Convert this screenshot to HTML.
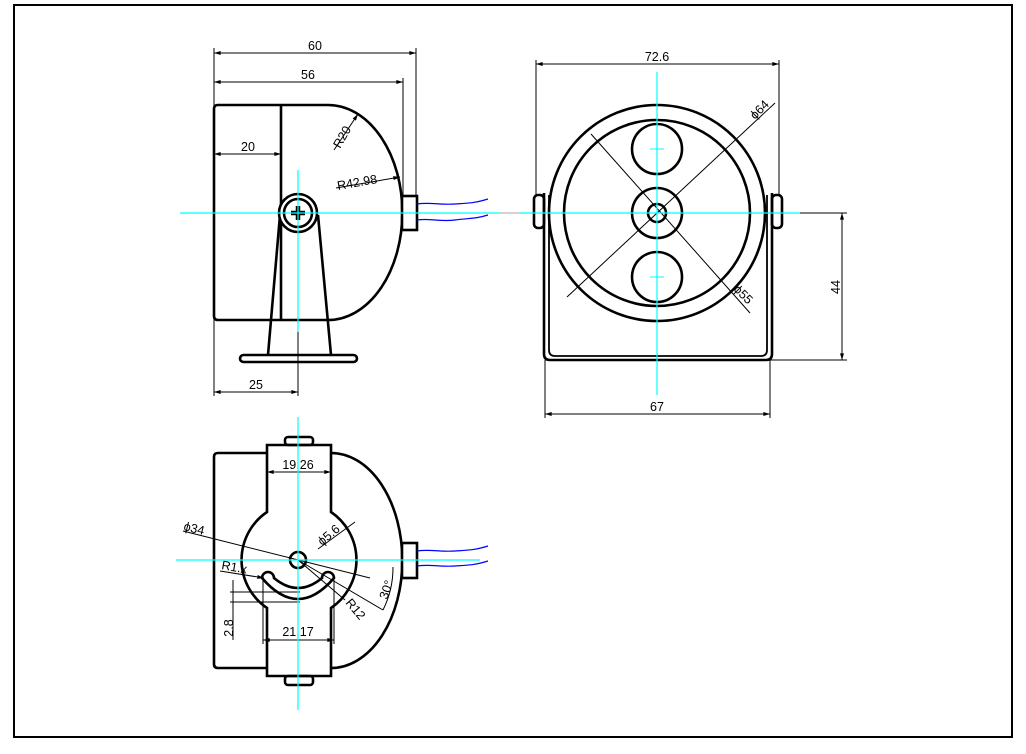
<!DOCTYPE html>
<html><head><meta charset="utf-8"><style>
html,body{margin:0;padding:0;background:#fff;}
svg{display:block;}
text{font-family:"Liberation Sans",sans-serif;font-size:12.5px;fill:#000;}
</style></head><body>
<svg width="1026" height="754" viewBox="0 0 1026 754" xmlns="http://www.w3.org/2000/svg">
<defs>
<marker id="a" viewBox="0 0 10 6" refX="10" refY="3" markerWidth="8" markerHeight="4" orient="auto-start-reverse" markerUnits="userSpaceOnUse"><path d="M0,0 L10,3 L0,6 Z" fill="#000"/></marker>
</defs>
<rect x="0" y="0" width="1026" height="754" fill="#fff"/>
<rect x="14" y="5" width="998" height="732" fill="none" stroke="#000" stroke-width="2"/>

<!-- ===== SIDE VIEW ===== -->
<g fill="none" stroke="#000" stroke-width="2.6">
  <path d="M218,105 L328,105 A74,107 0 0 1 328,320 L218,320 Q214,320 214,316 L214,109 Q214,105 218,105 Z"/>
  <line x1="281" y1="105" x2="281" y2="320"/>
  <path d="M280,215 L268,355 M318,215 L331,355"/>
  <rect x="240" y="355" width="117" height="7" rx="3.5"/>
  <circle cx="298" cy="213" r="19" fill="#fff"/>
  <circle cx="298" cy="213" r="14"/>
  <rect x="402" y="196" width="15" height="34" fill="#fff"/>
</g>
<path d="M291,213 h14 M298,206 v14" stroke="#000" stroke-width="4.5"/>
<path d="M417,204 C430,202 440,205 455,204 S475,203 488,199 M417,220 C430,218 440,222 455,220 S475,219 488,215" fill="none" stroke="#00f" stroke-width="1.2"/>
<g stroke="#000" stroke-width="1" fill="none">
  <line x1="214" y1="48" x2="214" y2="396"/>
  <line x1="416" y1="48" x2="416" y2="196"/>
  <line x1="403" y1="78" x2="403" y2="196"/>
  <line x1="298" y1="330" x2="298" y2="396"/>
  <line x1="214" y1="53" x2="416" y2="53" marker-start="url(#a)" marker-end="url(#a)"/>
  <line x1="214" y1="82" x2="403" y2="82" marker-start="url(#a)" marker-end="url(#a)"/>
  <line x1="214" y1="154" x2="281" y2="154" marker-start="url(#a)" marker-end="url(#a)"/>
  <line x1="214" y1="392" x2="298" y2="392" marker-start="url(#a)" marker-end="url(#a)"/>
  <line x1="334" y1="150" x2="358" y2="114" marker-end="url(#a)"/>
  <line x1="336" y1="188" x2="400" y2="177" marker-end="url(#a)"/>
</g>
<text x="315" y="50" text-anchor="middle">60</text>
<text x="308" y="79" text-anchor="middle">56</text>
<text x="248" y="151" text-anchor="middle">20</text>
<text x="256" y="389" text-anchor="middle">25</text>
<text x="0" y="0" transform="translate(340,149) rotate(-60)">R20</text>
<text x="0" y="0" transform="translate(338,190) rotate(-10)">R42.98</text>
<line x1="180" y1="213" x2="540" y2="213" stroke="#888" stroke-width="0.8"/>
<line x1="180" y1="213" x2="500" y2="213" stroke="#0ff" stroke-width="1.2"/>
<line x1="298" y1="170" x2="298" y2="332" stroke="#0ff" stroke-width="1.2"/>

<!-- ===== FRONT VIEW ===== -->
<g fill="none" stroke="#000" stroke-width="2.6">
  <path d="M544,193 L544,354 Q544,360 550,360 L766,360 Q772,360 772,354 L772,193"/>
  <path d="M549,195 L549,350 Q549,356 555,356 L761,356 Q767,356 767,350 L767,195" stroke-width="1.8"/>
  <rect x="534" y="195" width="10" height="33" rx="4"/>
  <rect x="772" y="195" width="10" height="33" rx="4"/>
  <circle cx="657" cy="213" r="108" fill="#fff"/>
  <circle cx="657" cy="213" r="93"/>
  <circle cx="657" cy="149" r="25"/>
  <circle cx="657" cy="277" r="25"/>
  <circle cx="657" cy="213" r="25"/>
  <circle cx="657" cy="213" r="9"/>
</g>
<g stroke="#000" stroke-width="1" fill="none">
  <line x1="567" y1="297" x2="775" y2="103"/>
  <line x1="591" y1="134" x2="750" y2="313"/>
  <line x1="536" y1="60" x2="536" y2="195"/>
  <line x1="779" y1="60" x2="779" y2="195"/>
  <line x1="536" y1="64" x2="779" y2="64" marker-start="url(#a)" marker-end="url(#a)"/>
  <line x1="545" y1="360" x2="545" y2="418"/>
  <line x1="770" y1="360" x2="770" y2="418"/>
  <line x1="545" y1="414" x2="770" y2="414" marker-start="url(#a)" marker-end="url(#a)"/>
  <line x1="785" y1="213" x2="847" y2="213"/>
  <line x1="770" y1="360" x2="847" y2="360"/>
  <line x1="842" y1="213" x2="842" y2="360" marker-start="url(#a)" marker-end="url(#a)"/>
</g>
<text x="657" y="61" text-anchor="middle">72.6</text>
<text x="657" y="411" text-anchor="middle">67</text>
<text x="0" y="0" transform="translate(840,287) rotate(-90)" text-anchor="middle">44</text>
<text x="0" y="0" transform="translate(755,120) rotate(-45)">ϕ64</text>
<text x="0" y="0" transform="translate(733,290) rotate(45)">ϕ55</text>
<line x1="520" y1="213" x2="800" y2="213" stroke="#0ff" stroke-width="1.2"/>
<line x1="657" y1="72" x2="657" y2="395" stroke="#0ff" stroke-width="1.2"/>
<path d="M650,149 h14 M650,277 h14" stroke="#0ff" stroke-width="1"/>

<!-- ===== BOTTOM VIEW ===== -->
<g fill="none" stroke="#000" stroke-width="2.6">
  <path d="M331,453 A71,107 0 0 1 331,668"/>
  <path d="M267,453 L218,453 Q214,453 214,457 L214,664 Q214,668 218,668 L267,668"/>
  <path d="M267,445 L331,445 L331,512 A58,58 0 0 1 331,608 L331,676 L267,676 L267,608 A58,58 0 0 1 267,512 Z" fill="#fff"/>
  <rect x="285" y="437" width="28" height="8" rx="3"/>
  <rect x="285" y="676" width="28" height="9" rx="3"/>
  <rect x="402" y="543" width="15" height="35" fill="#fff"/>
  <circle cx="298" cy="560" r="8"/>
  <path d="M262,578 A6,6 0 0 1 274,578 Q298,598 322,578 A6,6 0 0 1 334,578 Q298,620 262,578 Z"/>
</g>
<path d="M417,551 C430,549 440,552 455,551 S475,550 488,546 M417,566 C430,564 440,567 455,566 S475,565 488,561" fill="none" stroke="#00f" stroke-width="1.2"/>
<g stroke="#000" stroke-width="1" fill="none">
  <line x1="267" y1="472" x2="331" y2="472" marker-start="url(#a)" marker-end="url(#a)"/>
  <line x1="263" y1="580" x2="263" y2="644"/>
  <line x1="334" y1="580" x2="334" y2="644"/>
  <line x1="263" y1="640" x2="334" y2="640" marker-start="url(#a)" marker-end="url(#a)"/>
  <line x1="183" y1="531" x2="370" y2="578"/>
  <line x1="220" y1="571" x2="264" y2="578" marker-end="url(#a)"/>
  <line x1="318" y1="549" x2="355" y2="522"/>
  <line x1="298" y1="560" x2="345" y2="600"/>
  <line x1="298" y1="560" x2="383" y2="610"/>
  <path d="M393,567 A95,95 0 0 1 383,610"/>
  <line x1="230" y1="592" x2="300" y2="592"/>
  <line x1="230" y1="602" x2="300" y2="602"/>
  <line x1="233" y1="580" x2="233" y2="640"/>
</g>
<text x="298" y="469" text-anchor="middle">19.26</text>
<text x="298" y="636" text-anchor="middle">21.17</text>
<text x="0" y="0" transform="translate(183,530) rotate(14)">ϕ34</text>
<text x="0" y="0" transform="translate(221,569) rotate(10)">R1.x</text>
<text x="0" y="0" transform="translate(322,546) rotate(-40)">ϕ5.6</text>
<text x="0" y="0" transform="translate(345,603) rotate(50)">R12</text>
<text x="0" y="0" transform="translate(387,600) rotate(-70)">30°</text>
<text x="0" y="0" transform="translate(233,628) rotate(-90)" text-anchor="middle">2.8</text>
<line x1="176" y1="560" x2="480" y2="560" stroke="#0ff" stroke-width="1.2"/>
<line x1="298" y1="417" x2="298" y2="710" stroke="#0ff" stroke-width="1.2"/>
</svg>
</body></html>
